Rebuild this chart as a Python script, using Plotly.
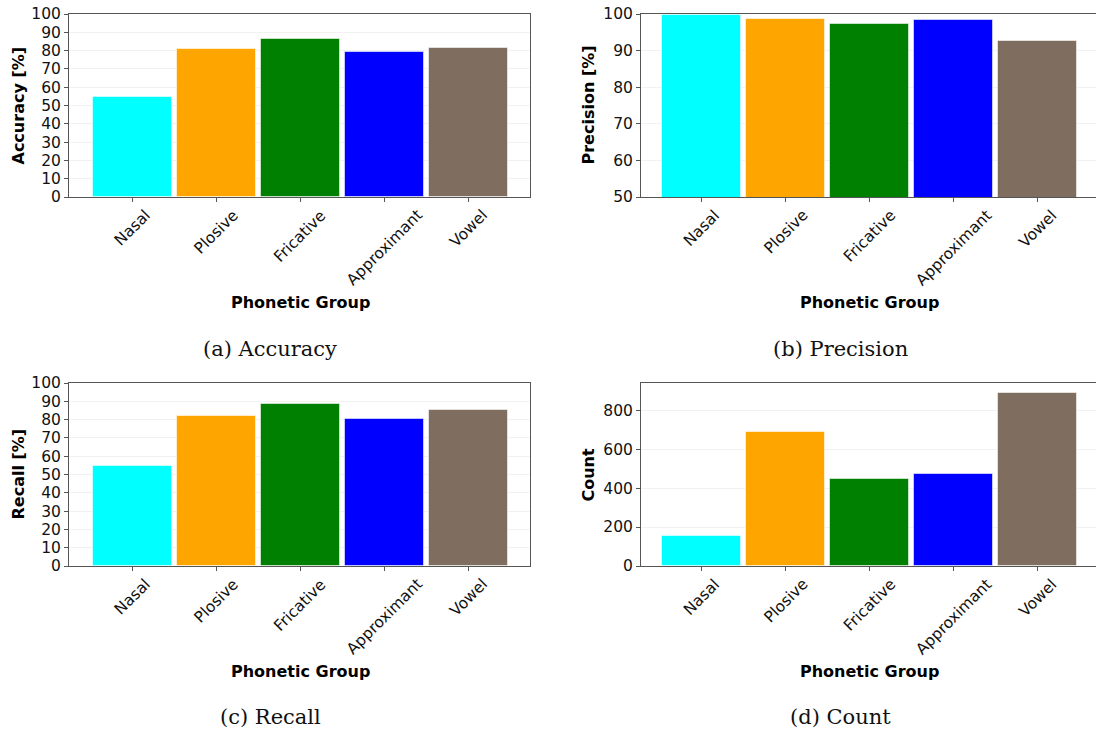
import plotly.graph_objects as go

# Per-group evaluation results
groups = ["Nasal", "Plosive", "Fricative", "Approximant", "Vowel"]
group_colors = ["#00ffff", "#ffa500", "#008000", "#0000ff", "#7f6d5f"]
accuracy = [54.7, 80.8, 86.2, 79.2, 81.3]
precision = [99.8, 98.6, 97.3, 98.4, 92.7]
recall = [54.6, 81.7, 88.4, 80.1, 85.2]
count = [156, 690, 445, 474, 889]

W, H = 1096, 734


def px(x):
    return x / W


def py(y):
    return 1 - y / H


TICK_FONT = dict(family="DejaVu Sans", size=15.5, color="#111111")
TITLE_FONT = dict(family="DejaVu Sans", size=16, color="#000000", weight="bold")
CAP_FONT = dict(family="DejaVu Serif", size=21, color="#111111")
LINE = "#555555"
STEP = 84  # pixel distance between neighbouring category ticks

# panel geometry in pixels plus the category range shown
panels = [
    dict(vals=accuracy, ytitle="Accuracy [%]", yr=[0, 100], dt=10, t0=0,
         xd=(69, 530), yd=(14, 197), xr=[-0.753, 4.737], cap="(a) Accuracy",
         capx=270, capy=349, ytx=18),
    dict(vals=precision, ytitle="Precision [%]", yr=[50, 100], dt=10, t0=50,
         xd=(641, 1096), yd=(14, 197), xr=[-0.723, 4.694], cap="(b) Precision",
         capx=840, capy=349, ytx=588),
    dict(vals=recall, ytitle="Recall [%]", yr=[0, 100], dt=10, t0=0,
         xd=(69, 530), yd=(383, 566), xr=[-0.753, 4.737], cap="(c) Recall",
         capx=270, capy=717, ytx=18),
    dict(vals=count, ytitle="Count", yr=[0, 940], dt=200, t0=0,
         xd=(641, 1096), yd=(383, 566), xr=[-0.723, 4.694], cap="(d) Count",
         capx=840, capy=717, ytx=588),
]

fig = go.Figure()
annotations = []
layout = {}

for i, p in enumerate(panels, start=1):
    xa = "x" if i == 1 else f"x{i}"
    ya = "y" if i == 1 else f"y{i}"
    xkey = "xaxis" if i == 1 else f"xaxis{i}"
    ykey = "yaxis" if i == 1 else f"yaxis{i}"

    fig.add_trace(go.Bar(
        x=groups, y=p["vals"], xaxis=xa, yaxis=ya, width=0.94,
        marker=dict(color=group_colors,
                    line=dict(color="rgba(255,255,255,0.55)", width=1)),
        showlegend=False,
    ))

    layout[xkey] = dict(
        domain=[px(p["xd"][0]), px(p["xd"][1])], anchor=ya,
        type="category", range=p["xr"], showticklabels=False,
        ticks="outside", ticklen=4, tickcolor=LINE, tickwidth=1,
        showline=True, linecolor=LINE, linewidth=1, mirror=True,
        showgrid=False, zeroline=False, fixedrange=True, automargin=False,
    )
    layout[ykey] = dict(
        domain=[py(p["yd"][1]), py(p["yd"][0])], anchor=xa,
        range=p["yr"], tickmode="linear", tick0=p["t0"], dtick=p["dt"],
        ticks="outside", ticklen=4, tickcolor=LINE, tickwidth=1,
        tickfont=TICK_FONT,
        showline=True, linecolor=LINE, linewidth=1, mirror=True,
        showgrid=True, gridcolor="rgba(0,0,0,0.05)", gridwidth=1,
        zeroline=False, fixedrange=True, automargin=False,
    )

    # rotated category labels, centred under each tick
    for g in groups:
        annotations.append(dict(
            x=g, xref=xa, y=py(p["yd"][1]), yref="paper",
            text=g, textangle=-45, showarrow=False,
            xanchor="center", yanchor="top", yshift=-8,
            font=TICK_FONT, borderpad=0,
        ))

    # axis titles
    xmid = p["xd"][0] + (2 - p["xr"][0]) * STEP
    annotations.append(dict(
        x=px(xmid), xref="paper", y=py(p["yd"][1] + 105), yref="paper",
        text="Phonetic Group", showarrow=False,
        xanchor="center", yanchor="middle", font=TITLE_FONT,
    ))
    annotations.append(dict(
        x=px(p["ytx"]), xref="paper", y=py((p["yd"][0] + p["yd"][1]) / 2),
        yref="paper", text=p["ytitle"], textangle=-90, showarrow=False,
        xanchor="center", yanchor="middle", font=TITLE_FONT,
    ))
    # sub-figure caption
    annotations.append(dict(
        x=px(p["capx"]), xref="paper", y=py(p["capy"]), yref="paper",
        text=p["cap"], showarrow=False, xanchor="center", yanchor="middle",
        font=CAP_FONT,
    ))

fig.update_layout(
    width=W, height=H,
    margin=dict(l=0, r=0, t=0, b=0, autoexpand=False),
    paper_bgcolor="white", plot_bgcolor="white",
    bargap=0, annotations=annotations,
    **layout,
)

fig.write_html("out.html", config={"displayModeBar": False})
